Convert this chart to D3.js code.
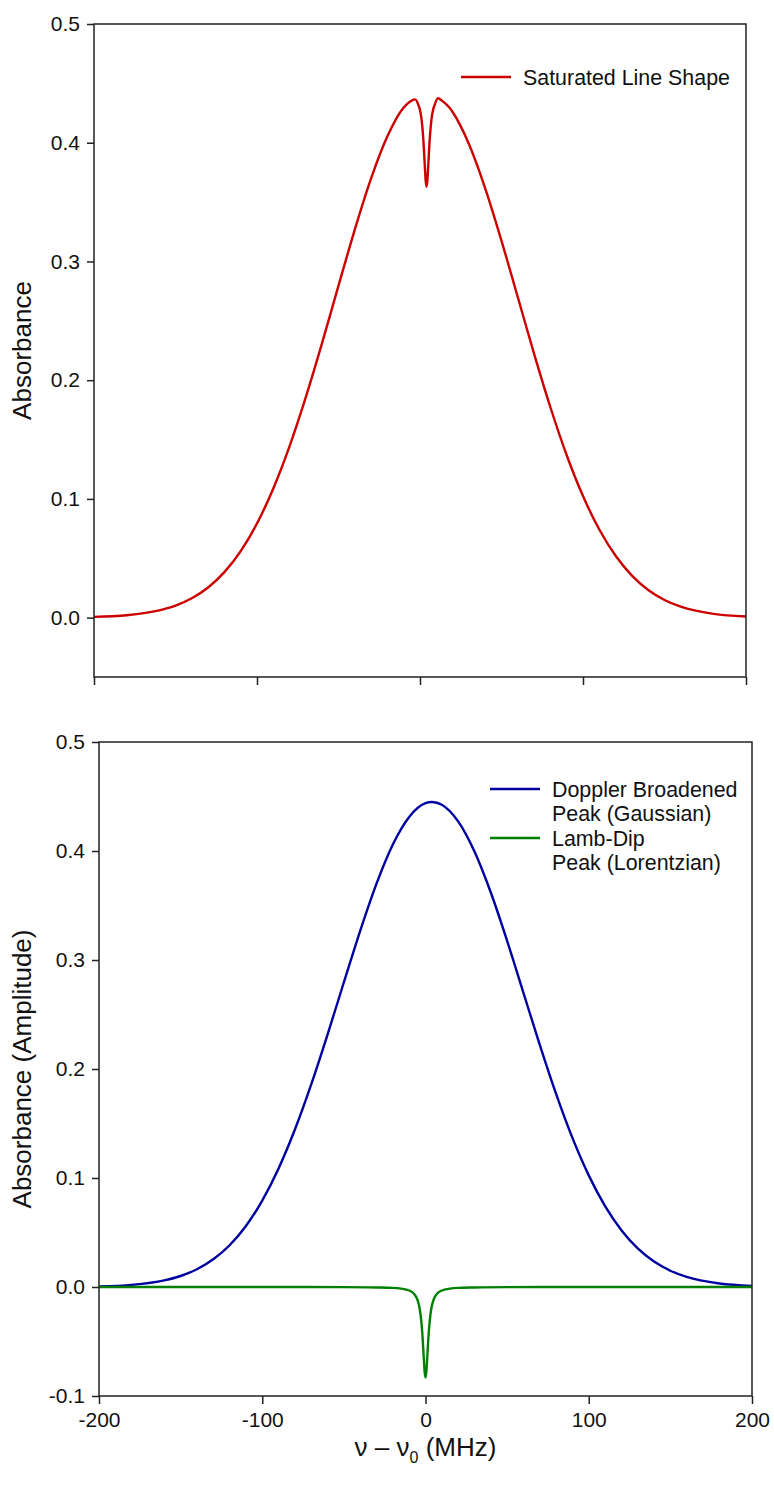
<!DOCTYPE html>
<html>
<head>
<meta charset="utf-8">
<script src="https://cdn.jsdelivr.net/npm/d3@7"></script>
<style>
  body { margin: 0; background: #fff; }
  svg { display: block; font-family: "Liberation Sans", Arial, sans-serif; }
</style>
</head>
<body>
<svg id="chart" width="774" height="1485"></svg>
<script>
// values (MHz, absorbance)
var satFreq = [-200,-180,-160,-150,-140,-130,-120,-110,-100,-90,-80,-70,-60,-50,-40,-30,-20,-10,-6,-3,-1,0,1,2,3,3.5,4,4.5,5,6,7,8,9,11,14,18,20,30,40,50,60,70,80,90,100,110,120,130,140,150,160,180,200];
var satAbs  = [0.0006,0.0020,0.0061,0.0101,0.0163,0.0254,0.0383,0.0560,0.0793,0.1088,0.1445,0.1859,0.2316,0.2796,0.3268,0.3699,0.4054,0.4297,0.4348,0.4365,0.4319,0.4275,0.4192,0.4037,0.3793,0.3678,0.3630,0.3678,0.3793,0.4037,0.4192,0.4275,0.4319,0.4375,0.4348,0.4297,0.4259,0.3990,0.3616,0.3174,0.2699,0.2222,0.1772,0.1368,0.1024,0.0742,0.0521,0.0354,0.0233,0.0149,0.0092,0.0032,0.0010];

var dopFreq = [-200,-180,-160,-150,-140,-130,-120,-110,-100,-90,-80,-70,-60,-50,-40,-30,-20,-10,0,4,10,20,30,40,50,60,70,80,90,100,110,120,130,140,150,160,180,200];
var dopAbs  = [0.0006,0.0020,0.0061,0.0101,0.0163,0.0254,0.0383,0.0560,0.0793,0.1088,0.1445,0.1859,0.2316,0.2796,0.3268,0.3701,0.4060,0.4313,0.4439,0.4450,0.4425,0.4272,0.3995,0.3619,0.3176,0.2699,0.2222,0.1772,0.1368,0.1024,0.0742,0.0521,0.0354,0.0233,0.0149,0.0092,0.0032,0.0010];

var lambFreq = [-200,-100,-50,-30,-20,-15,-10,-7,-5,-4,-3,-2,-1,-0.5,0,0.5,1,2,3,4,5,7,10,15,20,30,50,100,200];
var lambAbs  = [0,0,-0.0001,-0.0004,-0.0008,-0.0015,-0.0032,-0.0063,-0.0114,-0.0166,-0.0255,-0.0415,-0.0664,-0.0781,-0.0830,-0.0781,-0.0664,-0.0415,-0.0255,-0.0166,-0.0114,-0.0063,-0.0032,-0.0015,-0.0008,-0.0004,-0.0001,0,0];

var xTicks = [-200,-100,0,100,200];
var yTicksTop = [0,0.1,0.2,0.3,0.4,0.5];
var yTicksBottom = [-0.1,0,0.1,0.2,0.3,0.4,0.5];

var svg = d3.select("#chart");
svg.append("rect").attr("width",774).attr("height",1485).attr("fill","#fff");

function zip(xs, ys){
  return xs.map(function(x,i){ return [x, ys[i]]; });
}

function drawPanel(opt){
  var x = d3.scaleLinear().domain([-200,200]).range([opt.left, opt.right]);
  var y = d3.scaleLinear().domain(opt.yDomain).range([opt.bottom, opt.top]);
  var g = svg.append("g");

  // line curves
  var line = d3.line()
    .x(function(d){ return x(d[0]); })
    .y(function(d){ return y(d[1]); })
    .curve(d3.curveMonotoneX);

  opt.series.forEach(function(s){
    g.append("path")
      .datum(zip(s.xs, s.ys))
      .attr("fill","none")
      .attr("stroke", s.color)
      .attr("stroke-width", 2.4)
      .attr("stroke-linejoin","round")
      .attr("d", line);
  });

  // axes
  var yAxis = d3.axisLeft(y).tickValues(opt.yTicks)
    .tickFormat(function(d){ return d.toFixed(1); })
    .tickSize(7).tickSizeOuter(0).tickPadding(7);
  var xAxis = d3.axisBottom(x).tickValues(xTicks)
    .tickFormat(opt.xLabels ? function(d){ return String(d); } : "")
    .tickSize(8).tickSizeOuter(0).tickPadding(8);

  var ya = g.append("g").attr("transform","translate(" + opt.left + ",0)").call(yAxis);
  var xa = g.append("g").attr("transform","translate(0," + opt.bottom + ")").call(xAxis);
  [ya, xa].forEach(function(a){
    a.select(".domain").remove();
    a.selectAll("line").attr("stroke","#222").attr("stroke-width",1.5);
    a.selectAll("text").attr("fill","#111").style("font-size","21px");
  });

  g.append("rect")
    .attr("x", opt.left).attr("y", opt.top)
    .attr("width", opt.right - opt.left).attr("height", opt.bottom - opt.top)
    .attr("fill","none").attr("stroke","#222").attr("stroke-width",1.5);

  // y title
  g.append("text")
    .attr("transform","translate(" + 31 + "," + ((opt.top + opt.bottom) / 2) + ") rotate(-90)")
    .attr("text-anchor","middle")
    .style("font-size","26px").attr("fill","#111")
    .text(opt.yTitle);

  // legend
  var ly = opt.legendY;
  opt.series.forEach(function(s){
    g.append("line")
      .attr("x1", opt.legendX).attr("x2", opt.legendX + 50)
      .attr("y1", ly).attr("y2", ly)
      .attr("stroke", s.color).attr("stroke-width", 2.4);
    s.label.forEach(function(t, k){
      g.append("text")
        .attr("x", opt.legendX + 62).attr("y", ly + k * 24.5)
        .attr("dy","0.36em")
        .style("font-size","21.4px").attr("fill","#111")
        .text(t);
    });
    ly += s.label.length * 24.5;
  });

  return x;
}

drawPanel({
  left: 94, right: 746, top: 24, bottom: 677,
  yDomain: [-0.05, 0.5], yTicks: yTicksTop, xLabels: false,
  yTitle: "Absorbance",
  legendX: 461, legendY: 77,
  series: [
    { xs: satFreq, ys: satAbs, color: "#cc0000", label: ["Saturated Line Shape"] }
  ]
});

drawPanel({
  left: 99, right: 752, top: 742, bottom: 1396,
  yDomain: [-0.1, 0.5], yTicks: yTicksBottom, xLabels: true,
  yTitle: "Absorbance (Amplitude)",
  legendX: 490, legendY: 789,
  series: [
    { xs: dopFreq, ys: dopAbs, color: "#0000a0", label: ["Doppler Broadened", "Peak (Gaussian)"] },
    { xs: lambFreq, ys: lambAbs, color: "#008000", label: ["Lamb-Dip", "Peak (Lorentzian)"] }
  ]
});

// x title with subscript
var xt = svg.append("text")
  .attr("x", (99 + 752) / 2).attr("y", 1456)
  .attr("text-anchor","middle")
  .style("font-size","26px").attr("fill","#111");
xt.append("tspan").text("\u03bd \u2013 \u03bd");
xt.append("tspan").attr("dy", 7).style("font-size","16px").text("0");
xt.append("tspan").attr("dy", -7).text(" (MHz)");
</script>
</body>
</html>
